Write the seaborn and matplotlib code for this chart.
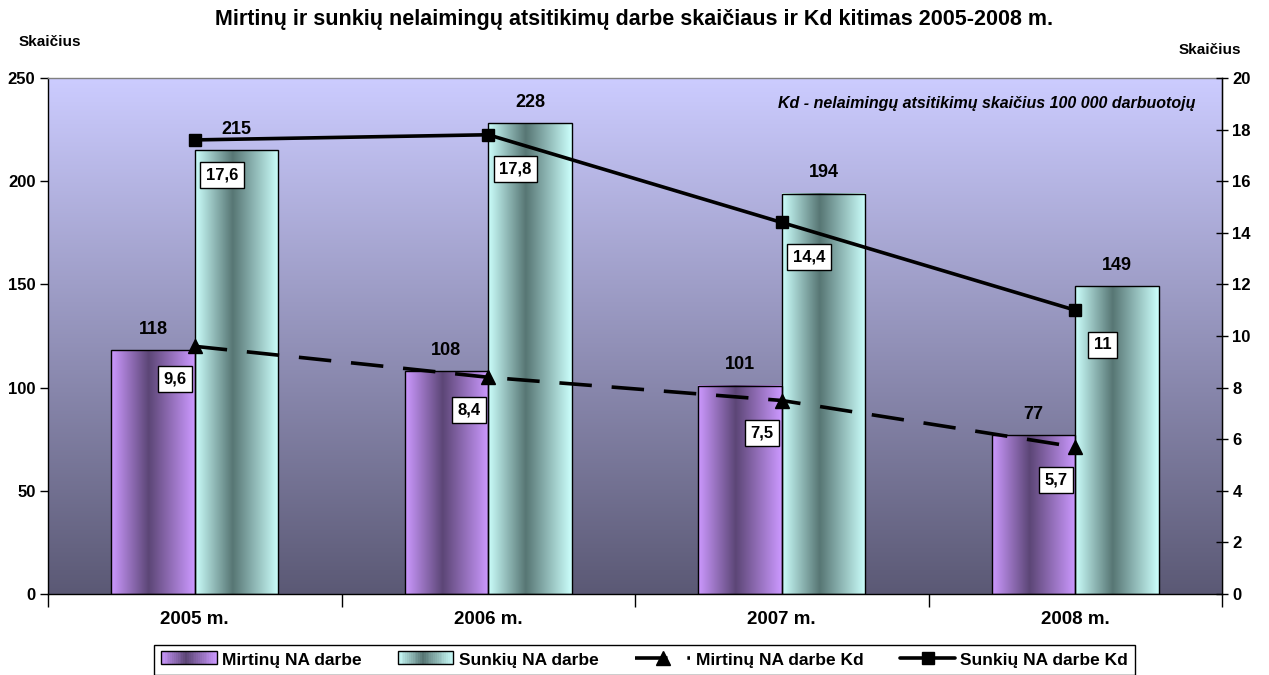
import numpy as np
import pandas as pd
import matplotlib
matplotlib.use("Agg")
import matplotlib.pyplot as plt
import seaborn as sns
from matplotlib.colors import LinearSegmentedColormap
from matplotlib.patches import Rectangle
from matplotlib.lines import Line2D
from matplotlib.legend_handler import HandlerBase

# duomenys
metai = ["2005 m.", "2006 m.", "2007 m.", "2008 m."]
mirtini = [118, 108, 101, 77]
sunkus = [215, 228, 194, 149]
mirtini_kd = [9.6, 8.4, 7.5, 5.7]
sunkus_kd = [17.6, 17.8, 14.4, 11.0]
serijos = ["Mirtinų NA darbe", "Sunkių NA darbe"]

sns.set_theme(style="white")
plt.rcParams["font.family"] = ["Liberation Sans", "DejaVu Sans"]
plt.rcParams["font.weight"] = "bold"
for k in ["text.color", "axes.labelcolor", "xtick.color", "ytick.color"]:
    plt.rcParams[k] = "black"

df = pd.DataFrame({
    "metai": metai * 2,
    "skaicius": mirtini + sunkus,
    "serija": [serijos[0]] * 4 + [serijos[1]] * 4,
})


def gradient_cmap(light, dark):
    return LinearSegmentedColormap.from_list(
        "g", [(0, light), (0.45, dark), (1, light)])


cmap_purple = gradient_cmap("#cc99ff", "#5c4676")
cmap_cyan = gradient_cmap("#ccfffc", "#577674")

fig = plt.figure(figsize=(12.69, 6.75), dpi=100)
ax = fig.add_axes([48 / 1269, 1 - 594 / 675, (1222 - 48) / 1269, (594 - 78) / 675])

sns.barplot(data=df, x="metai", y="skaicius", hue="serija", hue_order=serijos,
            width=0.57, ax=ax, legend=False, zorder=3)

# fono gradientas
bg = LinearSegmentedColormap.from_list("bg", ["#5b5975", "#ccccff"])
ax.imshow(np.linspace(0, 1, 256).reshape(-1, 1), cmap=bg, origin="lower",
          extent=[0, 1, 0, 1], transform=ax.transAxes, aspect="auto", zorder=0)

# stulpeliu gradientai ir reiksmes
row = np.linspace(0, 1, 256).reshape(1, -1)
for cont, cm in zip(ax.containers, [cmap_purple, cmap_cyan]):
    for p in cont.patches:
        x0, w, h = p.get_x(), p.get_width(), p.get_height()
        ax.imshow(row, cmap=cm, extent=[x0, x0 + w, 0, h], aspect="auto", zorder=2)
        p.set_facecolor("none")
        p.set_edgecolor("black")
        p.set_linewidth(1)
        ax.annotate(f"{h:.0f}", (x0 + w / 2, h), xytext=(0, 15),
                    textcoords="offset points", ha="center", va="center",
                    fontsize=13, fontweight="bold")

ax.set_xlim(-0.5, 3.5)
ax.set_ylim(0, 250)
ax.set_yticks(np.arange(0, 251, 50))
ax.set_xlabel("")
ax.set_ylabel("")
ax.set_xticks(np.arange(-0.5, 3.6, 1), minor=True)
ax.tick_params(axis="x", which="major", length=0, pad=12, labelsize=13.5)
ax.tick_params(axis="x", which="minor", length=9, width=1, color="black", direction="out", bottom=True)
ax.tick_params(axis="y", length=6, width=1, color="black", direction="out", labelsize=12, pad=3, left=True)
for lab in ax.get_xticklabels() + ax.get_yticklabels():
    lab.set_fontweight("bold")
for s in ["top", "right"]:
    ax.spines[s].set_color("#808080")
for s in ["left", "bottom"]:
    ax.spines[s].set_color("black")
for s in ax.spines.values():
    s.set_linewidth(1)
    s.set_zorder(5)

# Kd linijos
ax2 = ax.twinx()
xs = np.arange(len(metai))
ax2.plot(xs, sunkus_kd, color="black", lw=2.6, marker="s", markersize=8, zorder=4)
ax2.plot(xs, mirtini_kd, color="black", lw=2.6, marker="^", markersize=9.5,
         dashes=(9, 5.5), zorder=4)
ax2.set_ylim(0, 20)
ax2.set_yticks(np.arange(0, 21, 2))
ax2.tick_params(axis="y", length=9, width=1, color="black", direction="inout",
                labelsize=12, pad=3, right=True)
for lab in ax2.get_yticklabels():
    lab.set_fontweight("bold")
ax2.spines["right"].set_color("black")
ax2.spines["right"].set_linewidth(1)
for s in ["top", "left", "bottom"]:
    ax2.spines[s].set_visible(False)

box = dict(boxstyle="square,pad=0.33", fc="white", ec="black", lw=1)
for x, v in zip(xs, sunkus_kd):
    ax2.annotate(f"{v:g}".replace(".", ","), (x, v), xytext=(19.5, -25),
                 textcoords="offset points", ha="center", va="center",
                 fontsize=12, fontweight="bold", bbox=box, zorder=6)
for x, v in zip(xs, mirtini_kd):
    ax2.annotate(f"{v:g}".replace(".", ","), (x, v), xytext=(-14, -23.5),
                 textcoords="offset points", ha="center", va="center",
                 fontsize=12, fontweight="bold", bbox=box, zorder=6)

ax2.text(0.977, 0.951, "Kd - nelaimingų atsitikimų skaičius 100 000 darbuotojų",
         transform=ax2.transAxes, ha="right", va="center", fontsize=11.5,
         fontweight="bold", style="italic")

fig.text(0.5, 1 - 20 / 675, "Mirtinų ir sunkių nelaimingų atsitikimų darbe skaičiaus ir Kd kitimas 2005-2008 m.",
         ha="center", va="center", fontsize=15.5, fontweight="bold")
fig.text(50 / 1269, 1 - 42 / 675, "Skaičius", ha="center", va="center", fontsize=11, fontweight="bold")
fig.text(1210 / 1269, 1 - 50 / 675, "Skaičius", ha="center", va="center", fontsize=11, fontweight="bold")


# legenda su gradientiniais staciakampiais
class GradientHandler(HandlerBase):
    def __init__(self, cm):
        super().__init__()
        self.cm = cm

    def create_artists(self, legend, orig, xd, yd, width, height, fontsize, trans):
        n = 30
        arts = []
        for i in range(n):
            r = Rectangle((xd + width * i / n, yd), width / n + 0.3, height,
                          fc=self.cm((i + 0.5) / n), ec="none", transform=trans)
            arts.append(r)
        arts.append(Rectangle((xd, yd), width, height, fc="none", ec="black",
                              lw=1, transform=trans))
        return arts


h1 = Rectangle((0, 0), 1, 1)
h2 = Rectangle((0, 0), 1, 1)
h3 = Line2D([], [], color="black", lw=2.6, marker="^", markersize=9.5, dashes=(9, 5.5))
h4 = Line2D([], [], color="black", lw=2.6, marker="s", markersize=8)
leg = fig.legend([h1, h2, h3, h4],
                 ["Mirtinų NA darbe", "Sunkių NA darbe", "Mirtinų NA darbe Kd", "Sunkių NA darbe Kd"],
                 handler_map={h1: GradientHandler(cmap_purple), h2: GradientHandler(cmap_cyan)},
                 loc="upper center", bbox_to_anchor=(0.508, 1 - 645 / 675), ncol=4,
                 frameon=True, fancybox=False, edgecolor="black", framealpha=1,
                 prop={"weight": "bold", "size": 12.5}, handlelength=3.2,
                 handleheight=0.8, handletextpad=0.3, columnspacing=2.1,
                 borderpad=0.4, borderaxespad=0)
leg.get_frame().set_linewidth(1)

fig.savefig("out.png", dpi=100)
